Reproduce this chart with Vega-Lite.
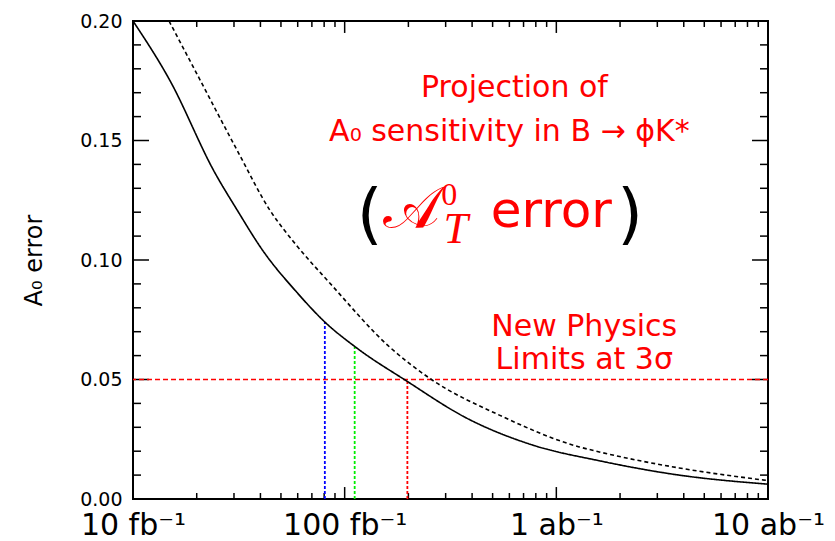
{
  "$schema": "https://vega.github.io/schema/vega-lite/v6.json",
  "width": 635,
  "height": 478,
  "autosize": {"type": "none"},
  "padding": {"left": 133, "top": 21, "right": 67, "bottom": 42},
  "background": "white",
  "config": {
    "view": {"stroke": "black", "strokeWidth": 2},
    "axis": {"grid": false, "domain": false}
  },
  "datasets": {
    "curves": [
      {"L": 10, "v": 0.200, "series": "solid"},
      {"L": 14.9, "v": 0.1753, "series": "solid"},
      {"L": 24.4, "v": 0.1364, "series": "solid"},
      {"L": 31, "v": 0.121, "series": "solid"},
      {"L": 41, "v": 0.104, "series": "solid"},
      {"L": 59.4, "v": 0.0865, "series": "solid"},
      {"L": 80.5, "v": 0.0741, "series": "solid"},
      {"L": 114, "v": 0.0632, "series": "solid"},
      {"L": 196, "v": 0.0494, "series": "solid"},
      {"L": 376, "v": 0.0339, "series": "solid"},
      {"L": 771, "v": 0.0226, "series": "solid"},
      {"L": 1596, "v": 0.0160, "series": "solid"},
      {"L": 3800, "v": 0.0100, "series": "solid"},
      {"L": 10000, "v": 0.0062, "series": "solid"},
      {"L": 14.8, "v": 0.200, "series": "dashed"},
      {"L": 20, "v": 0.178, "series": "dashed"},
      {"L": 31, "v": 0.146, "series": "dashed"},
      {"L": 44.3, "v": 0.1209, "series": "dashed"},
      {"L": 59.4, "v": 0.106, "series": "dashed"},
      {"L": 85, "v": 0.0904, "series": "dashed"},
      {"L": 163, "v": 0.0636, "series": "dashed"},
      {"L": 257, "v": 0.050, "series": "dashed"},
      {"L": 538, "v": 0.0351, "series": "dashed"},
      {"L": 1283, "v": 0.0218, "series": "dashed"},
      {"L": 1596, "v": 0.0197, "series": "dashed"},
      {"L": 3800, "v": 0.0130, "series": "dashed"},
      {"L": 10000, "v": 0.0077, "series": "dashed"}
    ],
    "cuts": [
      {"L": 80.6, "base": 0, "top": 0.0741, "scenario": "A"},
      {"L": 111.5, "base": 0, "top": 0.0636, "scenario": "B"},
      {"L": 197.8, "base": 0, "top": 0.050, "scenario": "C"}
    ],
    "limit": [{"v": 0.05}],
    "xMajor": [{"L": 100}, {"L": 1000}],
    "xMinor": [{"L": 20}, {"L": 30}, {"L": 40}, {"L": 50}, {"L": 60}, {"L": 70}, {"L": 80}, {"L": 90},
               {"L": 200}, {"L": 300}, {"L": 400}, {"L": 500}, {"L": 600}, {"L": 700}, {"L": 800}, {"L": 900},
               {"L": 2000}, {"L": 3000}, {"L": 4000}, {"L": 5000}, {"L": 6000}, {"L": 7000}, {"L": 8000}, {"L": 9000}],
    "yMajor": [{"v": 0.05}, {"v": 0.10}, {"v": 0.15}],
    "yMinor": [{"v": 0.01}, {"v": 0.02}, {"v": 0.03}, {"v": 0.04}, {"v": 0.06}, {"v": 0.07}, {"v": 0.08}, {"v": 0.09},
               {"v": 0.11}, {"v": 0.12}, {"v": 0.13}, {"v": 0.14}, {"v": 0.16}, {"v": 0.17}, {"v": 0.18}, {"v": 0.19}],
    "notes": [
      {"L": 634, "v": 0.1682, "text": "Projection of"},
      {"L": 600, "v": 0.1499, "text": "A₀ sensitivity in B → ϕK*"},
      {"L": 1355, "v": 0.0684, "text": "New Physics"},
      {"L": 1355, "v": 0.0544, "text": "Limits at 3σ"}
    ],
    "word": [{"L": 946.6, "v": 0.1138, "text": "error"}],
    "parens": [
      {"L": 131.2, "v": 0.110, "text": "("},
      {"L": 2234, "v": 0.110, "text": ")"}
    ],
    "scriptA": [{"L": 207, "v": 0.1134, "text": "𝒜"}],
    "subT": [{"L": 335, "v": 0.1071, "text": "T"}],
    "supZero": [{"L": 312, "v": 0.1230, "text": "0"}]
  },
  "resolve": {"axis": {"x": "independent", "y": "independent"}},
  "layer": [
    {
      "data": {"name": "xMajor"},
      "mark": {"type": "rule", "color": "black", "strokeWidth": 1.5},
      "encoding": {
        "x": {"field": "L", "type": "quantitative", "scale": {"type": "log", "domain": [10, 10000], "nice": false}, "axis": null},
        "y": {"datum": 0, "type": "quantitative", "scale": {"domain": [0, 0.2], "nice": false, "zero": false}, "axis": null},
        "y2": {"datum": 0.0050}
      }
    },
    {
      "data": {"name": "xMinor"},
      "mark": {"type": "rule", "color": "black", "strokeWidth": 1.5},
      "encoding": {
        "x": {"field": "L", "type": "quantitative", "scale": {"type": "log", "domain": [10, 10000], "nice": false}, "axis": null},
        "y": {"datum": 0, "type": "quantitative", "scale": {"domain": [0, 0.2], "nice": false, "zero": false}, "axis": null},
        "y2": {"datum": 0.0025}
      }
    },
    {
      "data": {"name": "xMajor"},
      "mark": {"type": "rule", "color": "black", "strokeWidth": 1.5},
      "encoding": {
        "x": {"field": "L", "type": "quantitative", "scale": {"type": "log", "domain": [10, 10000], "nice": false}, "axis": null},
        "y": {"datum": 0.2, "type": "quantitative", "scale": {"domain": [0, 0.2], "nice": false, "zero": false}, "axis": null},
        "y2": {"datum": 0.1950}
      }
    },
    {
      "data": {"name": "xMinor"},
      "mark": {"type": "rule", "color": "black", "strokeWidth": 1.5},
      "encoding": {
        "x": {"field": "L", "type": "quantitative", "scale": {"type": "log", "domain": [10, 10000], "nice": false}, "axis": null},
        "y": {"datum": 0.2, "type": "quantitative", "scale": {"domain": [0, 0.2], "nice": false, "zero": false}, "axis": null},
        "y2": {"datum": 0.1975}
      }
    },
    {
      "data": {"name": "yMajor"},
      "mark": {"type": "rule", "color": "black", "strokeWidth": 1.5},
      "encoding": {
        "y": {"field": "v", "type": "quantitative", "scale": {"domain": [0, 0.2], "nice": false, "zero": false}, "axis": null},
        "x": {"datum": 10, "type": "quantitative", "scale": {"type": "log", "domain": [10, 10000], "nice": false}, "axis": null},
        "x2": {"datum": 11.9}
      }
    },
    {
      "data": {"name": "yMinor"},
      "mark": {"type": "rule", "color": "black", "strokeWidth": 1.5},
      "encoding": {
        "y": {"field": "v", "type": "quantitative", "scale": {"domain": [0, 0.2], "nice": false, "zero": false}, "axis": null},
        "x": {"datum": 10, "type": "quantitative", "scale": {"type": "log", "domain": [10, 10000], "nice": false}, "axis": null},
        "x2": {"datum": 10.91}
      }
    },
    {
      "data": {"name": "yMajor"},
      "mark": {"type": "rule", "color": "black", "strokeWidth": 1.5},
      "encoding": {
        "y": {"field": "v", "type": "quantitative", "scale": {"domain": [0, 0.2], "nice": false, "zero": false}, "axis": null},
        "x": {"datum": 10000, "type": "quantitative", "scale": {"type": "log", "domain": [10, 10000], "nice": false}, "axis": null},
        "x2": {"datum": 8404}
      }
    },
    {
      "data": {"name": "yMinor"},
      "mark": {"type": "rule", "color": "black", "strokeWidth": 1.5},
      "encoding": {
        "y": {"field": "v", "type": "quantitative", "scale": {"domain": [0, 0.2], "nice": false, "zero": false}, "axis": null},
        "x": {"datum": 10000, "type": "quantitative", "scale": {"type": "log", "domain": [10, 10000], "nice": false}, "axis": null},
        "x2": {"datum": 9167}
      }
    },
    {
      "data": {"name": "limit"},
      "mark": {"type": "rule", "color": "#ff0000", "strokeWidth": 1.6, "strokeDash": [5, 3]},
      "encoding": {
        "y": {"field": "v", "type": "quantitative", "scale": {"domain": [0, 0.2], "nice": false, "zero": false}, "axis": null}
      }
    },
    {
      "data": {"name": "cuts"},
      "mark": {"type": "rule", "strokeWidth": 1.8, "strokeDash": [3, 2]},
      "encoding": {
        "x": {"field": "L", "type": "quantitative", "scale": {"type": "log", "domain": [10, 10000], "nice": false}, "axis": null},
        "y": {"field": "base", "type": "quantitative", "scale": {"domain": [0, 0.2], "nice": false, "zero": false}, "axis": null},
        "y2": {"field": "top"},
        "color": {"field": "scenario", "type": "nominal", "scale": {"domain": ["A", "B", "C"], "range": ["#0000ff", "#00ee00", "#ff0000"]}, "legend": null}
      }
    },
    {
      "data": {"name": "curves"},
      "mark": {"type": "line", "color": "black", "strokeWidth": 1.6, "interpolate": "monotone"},
      "encoding": {
        "x": {"field": "L", "type": "quantitative", "scale": {"type": "log", "domain": [10, 10000], "nice": false},
              "axis": {"orient": "bottom", "values": [10, 100, 1000, 10000], "labelExpr": "datum.value == 10 ? '10 fb⁻¹' : datum.value == 100 ? '100 fb⁻¹' : datum.value == 1000 ? '1 ab⁻¹' : '10 ab⁻¹'", "ticks": false, "domain": false, "grid": false, "labelFont": "DejaVu Sans", "labelFontSize": 30, "labelColor": "black", "labelBaseline": "alphabetic", "labelPadding": 35, "labelFlush": false, "labelOverlap": false, "title": null}},
        "y": {"field": "v", "type": "quantitative", "scale": {"domain": [0, 0.2], "nice": false, "zero": false},
              "axis": {"orient": "left", "values": [0, 0.05, 0.1, 0.15, 0.2], "format": ".2f", "ticks": false, "domain": false, "grid": false, "labelFont": "DejaVu Sans", "labelFontSize": 19, "labelColor": "black", "labelPadding": 11, "labelOverlap": false, "title": "A₀ error", "titleFont": "DejaVu Sans", "titleFontSize": 24, "titleFontWeight": "normal", "titleColor": "black", "titlePadding": 33}},
        "strokeDash": {"field": "series", "type": "nominal", "scale": {"domain": ["solid", "dashed"], "range": [[1, 0], [4, 3]]}, "legend": null}
      }
    },
    {
      "data": {"name": "notes"},
      "mark": {"type": "text", "color": "#ff0000", "font": "DejaVu Sans", "fontSize": 30, "align": "center", "baseline": "alphabetic"},
      "encoding": {
        "x": {"field": "L", "type": "quantitative", "scale": {"type": "log", "domain": [10, 10000], "nice": false}, "axis": null},
        "y": {"field": "v", "type": "quantitative", "scale": {"domain": [0, 0.2], "nice": false, "zero": false}, "axis": null},
        "text": {"field": "text"}
      }
    },
    {
      "data": {"name": "word"},
      "mark": {"type": "text", "color": "#ff0000", "font": "DejaVu Sans", "fontSize": 50, "align": "center", "baseline": "alphabetic"},
      "encoding": {
        "x": {"field": "L", "type": "quantitative", "scale": {"type": "log", "domain": [10, 10000], "nice": false}, "axis": null},
        "y": {"field": "v", "type": "quantitative", "scale": {"domain": [0, 0.2], "nice": false, "zero": false}, "axis": null},
        "text": {"field": "text"}
      }
    },
    {
      "data": {"name": "parens"},
      "mark": {"type": "text", "color": "black", "font": "DejaVu Sans", "fontSize": 66, "align": "center", "baseline": "alphabetic"},
      "encoding": {
        "x": {"field": "L", "type": "quantitative", "scale": {"type": "log", "domain": [10, 10000], "nice": false}, "axis": null},
        "y": {"field": "v", "type": "quantitative", "scale": {"domain": [0, 0.2], "nice": false, "zero": false}, "axis": null},
        "text": {"field": "text"}
      }
    },
    {
      "data": {"name": "scriptA"},
      "mark": {"type": "text", "color": "#ff0000", "font": "DejaVu Serif", "fontSize": 60, "align": "center", "baseline": "alphabetic"},
      "encoding": {
        "x": {"field": "L", "type": "quantitative", "scale": {"type": "log", "domain": [10, 10000], "nice": false}, "axis": null},
        "y": {"field": "v", "type": "quantitative", "scale": {"domain": [0, 0.2], "nice": false, "zero": false}, "axis": null},
        "text": {"field": "text"}
      }
    },
    {
      "data": {"name": "subT"},
      "mark": {"type": "text", "color": "#ff0000", "font": "Liberation Serif", "fontStyle": "italic", "fontSize": 44, "align": "center", "baseline": "alphabetic"},
      "encoding": {
        "x": {"field": "L", "type": "quantitative", "scale": {"type": "log", "domain": [10, 10000], "nice": false}, "axis": null},
        "y": {"field": "v", "type": "quantitative", "scale": {"domain": [0, 0.2], "nice": false, "zero": false}, "axis": null},
        "text": {"field": "text"}
      }
    },
    {
      "data": {"name": "supZero"},
      "mark": {"type": "text", "color": "#ff0000", "font": "Liberation Serif", "fontSize": 32, "align": "center", "baseline": "alphabetic"},
      "encoding": {
        "x": {"field": "L", "type": "quantitative", "scale": {"type": "log", "domain": [10, 10000], "nice": false}, "axis": null},
        "y": {"field": "v", "type": "quantitative", "scale": {"domain": [0, 0.2], "nice": false, "zero": false}, "axis": null},
        "text": {"field": "text"}
      }
    }
  ]
}
